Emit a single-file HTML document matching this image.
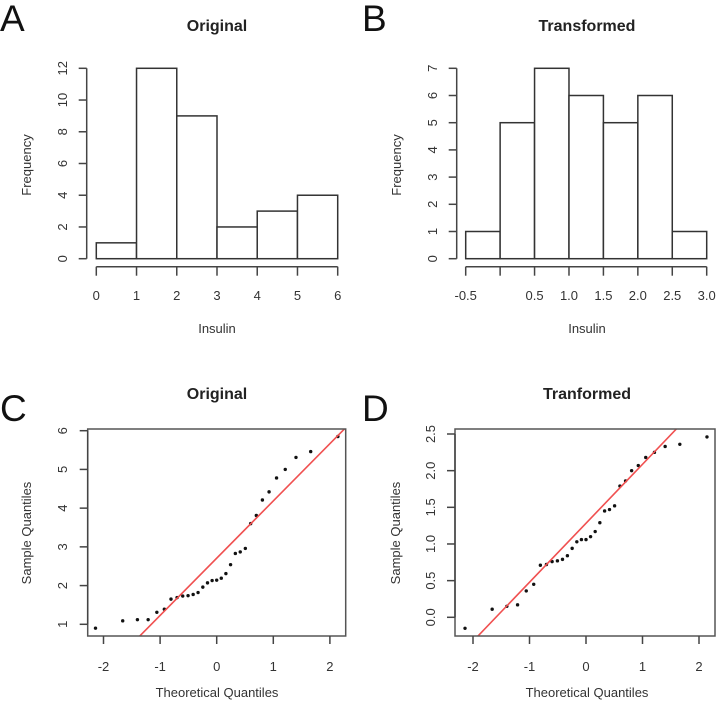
<!DOCTYPE html>
<html><head><meta charset="utf-8"><style>
html,body{margin:0;padding:0;background:#fff;overflow:hidden;width:719px;height:705px}
svg{display:block;font-family:"Liberation Sans",sans-serif}
</style></head><body>
<svg id="s" width="719" height="705" viewBox="0 0 719 705"></svg>
<script>
const histAEdges=[0,1,2,3,4,5,6];
const histACounts=[1,12,9,2,3,4];
const histAYTicks=[0,2,4,6,8,10,12];
const histBEdges=[-0.5,0,0.5,1,1.5,2,2.5,3];
const histBCounts=[1,5,7,6,5,6,1];
const histBXTicks=["-0.5","","0.5","1.0","1.5","2.0","2.5","3.0"];
const histBYTicks=[0,1,2,3,4,5,6,7];
const qqOrig=[0.90,1.09,1.12,1.12,1.31,1.39,1.65,1.69,1.74,1.73,1.77,1.82,1.96,2.07,2.14,2.13,2.19,2.31,2.54,2.83,2.87,2.96,3.60,3.81,4.21,4.42,4.78,5.00,5.31,5.46,5.85];
const qqTrans=[-0.15,0.11,0.15,0.17,0.36,0.45,0.71,0.72,0.76,0.77,0.79,0.84,0.94,1.03,1.06,1.06,1.10,1.17,1.29,1.45,1.47,1.52,1.79,1.86,2.00,2.07,2.18,2.25,2.33,2.36,2.46];
const qqCXTicks=[-2,-1,0,1,2];
const qqCYTicks=[1,2,3,4,5,6];
const qqDYTicks=["0.0","0.5","1.0","1.5","2.0","2.5"];

const NS="http://www.w3.org/2000/svg";
const S=document.getElementById('s');
function el(tag,attrs,parent,text){const e=document.createElementNS(NS,tag);for(const k in attrs)e.setAttribute(k,attrs[k]);if(text!==undefined)e.textContent=text;(parent||S).appendChild(e);return e;}
function lin(d0,d1,p0,p1){return v=>p0+(v-d0)*(p1-p0)/(d1-d0);}
function qnorm(p){
const a=[-39.6968302866538,220.946098424521,-275.928510446969,138.357751867269,-30.6647980661472,2.50662827745924],b=[-54.4760987982241,161.585836858041,-155.698979859887,66.8013118877197,-13.2806815528857],c=[-0.00778489400243029,-0.322396458041136,-2.40075827716184,-2.54973253934373,4.37466414146497,2.93816398269878],d=[0.00778469570904146,0.32246712907004,2.445134137143,3.75440866190742];
let q,r;if(p<0.02425){q=Math.sqrt(-2*Math.log(p));return(((((c[0]*q+c[1])*q+c[2])*q+c[3])*q+c[4])*q+c[5])/((((d[0]*q+d[1])*q+d[2])*q+d[3])*q+1);}
if(p>1-0.02425){q=Math.sqrt(-2*Math.log(1-p));return-(((((c[0]*q+c[1])*q+c[2])*q+c[3])*q+c[4])*q+c[5])/((((d[0]*q+d[1])*q+d[2])*q+d[3])*q+1);}
q=p-0.5;r=q*q;return(((((a[0]*r+a[1])*r+a[2])*r+a[3])*r+a[4])*r+a[5])*q/(((((b[0]*r+b[1])*r+b[2])*r+b[3])*r+b[4])*r+1);}
function quant(arr,p){const s=[...arr].sort((x,y)=>x-y);const h=(s.length-1)*p,lo=Math.floor(h);return s[lo]+(h-lo)*(s[Math.min(lo+1,s.length-1)]-s[lo]);}

const AX='#444',FS=13;
function letter(t,x,y){const e=el('text',{x:x,y:y,'font-size':37,fill:'#111'},S,t);}
function title(t,x,y,n){const e=el('text',{x:x,y:y,'font-size':16,'font-weight':'bold','text-anchor':'middle',fill:'#222'},S,t);}
function xlab(t,x,y,n){const e=el('text',{x:x,y:y,'font-size':FS,'text-anchor':'middle',fill:'#333'},S,t);}
function ylab(t,x,y,n){const e=el('text',{x:x,y:y,'font-size':FS,'text-anchor':'middle',fill:'#333',transform:`rotate(-90 ${x} ${y})`},S,t);}
function yaxis(ticks,ys,x,labX,name){const g=el('g',{});
const vals=ticks.map(Number);el('line',{x1:x,x2:x,y1:ys(vals[0]),y2:ys(vals[vals.length-1]),stroke:AX,'stroke-width':1.5},g);
ticks.forEach((t,i)=>{const y=ys(vals[i]);el('line',{x1:x-8,x2:x,y1:y,y2:y,stroke:AX,'stroke-width':1.5},g);el('text',{x:labX,y:y,'font-size':FS,'text-anchor':'middle',fill:'#333',transform:`rotate(-90 ${labX} ${y})`},g,String(t));});}
function xaxis(vals,labels,xs,y,labY,name){const g=el('g',{});
el('line',{x1:xs(vals[0]),x2:xs(vals[vals.length-1]),y1:y,y2:y,stroke:AX,'stroke-width':1.5},g);
vals.forEach((v,i)=>{const x=xs(v);el('line',{x1:x,x2:x,y1:y,y2:y+9,stroke:AX,'stroke-width':1.5},g);if(labels[i]!=='')el('text',{x:x,y:labY,'font-size':FS,'text-anchor':'middle',fill:'#333'},g,String(labels[i]));});}

letter('A',0,31);title('Original',217,31,'title-a');
{const xs=lin(0,6,96.3,337.7),ys=lin(0,12,258.7,68.3);
const g=el('g',{});
histACounts.forEach((c,i)=>{const r=el('rect',{x:xs(histAEdges[i]),y:ys(c),width:xs(histAEdges[i+1])-xs(histAEdges[i]),height:ys(0)-ys(c),fill:'#fff',stroke:'#333','stroke-width':1.5},g);});
yaxis(histAYTicks,ys,86.7,67,'y-axis-a');xaxis(histAEdges,histAEdges,xs,266.7,300,'x-axis-a');
ylab('Frequency',31,165,'y-axis-title-a');xlab('Insulin',217,333,'x-axis-title-a');}

letter('B',362,31);title('Transformed',587,31,'title-b');
{const xs=lin(-0.5,3,465.7,706.7),ys=lin(0,7,258.7,68.3);
const g=el('g',{});
histBCounts.forEach((c,i)=>{const r=el('rect',{x:xs(histBEdges[i]),y:ys(c),width:xs(histBEdges[i+1])-xs(histBEdges[i]),height:ys(0)-ys(c),fill:'#fff',stroke:'#333','stroke-width':1.5},g);});
yaxis(histBYTicks,ys,456.7,437,'y-axis-b');xaxis(histBEdges,histBXTicks,xs,266.7,300,'x-axis-b');
ylab('Frequency',401,165,'y-axis-title-b');xlab('Insulin',587,333,'x-axis-title-b');}

function qq(data,xs,ys,box,id){
const n=data.length;const sorted=[...data].sort((a,b)=>a-b);
const clip=el('clipPath',{id:'c'+id});el('rect',{x:box[0],y:box[1],width:box[2]-box[0],height:box[3]-box[1]},clip);
const g=el('g',{});
sorted.forEach((v,i)=>{const t=qnorm((i+0.5)/n);const c=el('circle',{cx:xs(t),cy:ys(v),r:1.7,fill:'#111'},g);});
const q1=quant(data,0.25),q3=quant(data,0.75),z=qnorm(0.75);const sl=(q3-q1)/(2*z),ic=q1+sl*z;
const x0=-4,x1=4;const l=el('line',{x1:xs(x0),y1:ys(ic+sl*x0),x2:xs(x1),y2:ys(ic+sl*x1),stroke:'#f05050','stroke-width':1.6,'clip-path':`url(#c${id})`});

const b=el('rect',{x:box[0],y:box[1],width:box[2]-box[0],height:box[3]-box[1],fill:'none',stroke:'#555','stroke-width':1.5});}

letter('C',0,421);title('Original',217,399,'title-c');
{const xs=lin(0,1,216.7,273.3),ys=lin(1,6,624.3,430.7);
qq(qqOrig,xs,ys,[87.7,429,345.7,636],'c');
yaxis(qqCYTicks,ys,87.7,67,'y-axis-c');
const g=el('g',{});
qqCXTicks.forEach(v=>{el('line',{x1:xs(v),x2:xs(v),y1:636,y2:644,stroke:AX,'stroke-width':1.5},g);el('text',{x:xs(v),y:671,'font-size':FS,'text-anchor':'middle',fill:'#333'},g,String(v));});
ylab('Sample Quantiles',31,533,'y-axis-title-c');xlab('Theoretical Quantiles',217,697,'x-axis-title-c');}

letter('D',362,421);title('Tranformed',587,399,'title-d');
{const xs=lin(0,1,586,642.5),ys=lin(0,2.5,617.3,434);
qq(qqTrans,xs,ys,[455,429,715,636],'d');
yaxis(qqDYTicks,ys,455,435,'y-axis-d');
const g=el('g',{});
qqCXTicks.forEach(v=>{el('line',{x1:xs(v),x2:xs(v),y1:636,y2:644,stroke:AX,'stroke-width':1.5},g);el('text',{x:xs(v),y:671,'font-size':FS,'text-anchor':'middle',fill:'#333'},g,String(v));});
ylab('Sample Quantiles',400,533,'y-axis-title-d');xlab('Theoretical Quantiles',587,697,'x-axis-title-d');}
</script>
</body></html>
